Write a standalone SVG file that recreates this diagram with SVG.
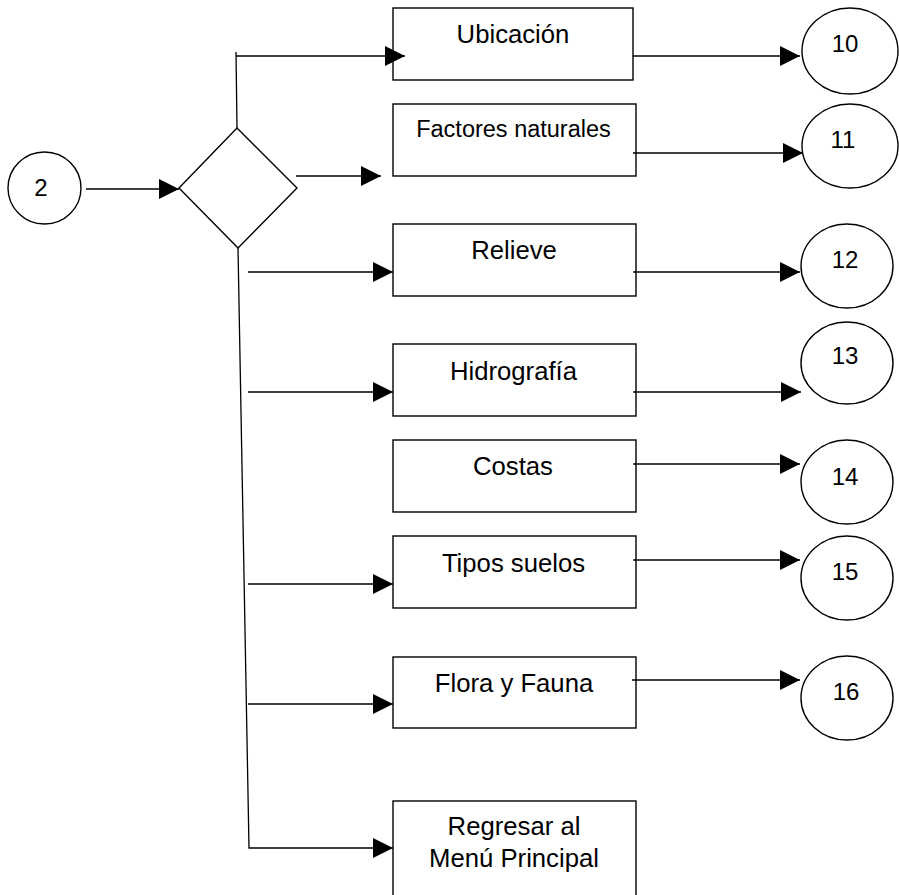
<svg xmlns="http://www.w3.org/2000/svg" width="899" height="895" viewBox="0 0 899 895">
  <style>
    .shape { fill: #fff; stroke: #000; stroke-width: 1.4; }
    .wire { fill: none; stroke: #000; stroke-width: 1.3; }
    .lbl { font-family: "Liberation Sans", Arial, sans-serif; font-size: 25.7px; fill: #000; text-anchor: middle; }
    .small { font-size: 23.5px; }
    .num { font-family: "Liberation Sans", Arial, sans-serif; font-size: 24px; fill: #000; text-anchor: middle; }
  </style>
  <defs>
    <marker id="arrow" markerUnits="userSpaceOnUse" markerWidth="20" markerHeight="20" refX="20" refY="10" orient="auto">
      <path d="M0,0 L20,10 L0,20 z" fill="#000"/>
    </marker>
  </defs>
  <rect width="899" height="895" fill="#fff"/>

  <g id="start">
    <ellipse class="shape" cx="44.5" cy="188" rx="36.5" ry="36"/>
    <text class="num" x="41" y="196">2</text>
  </g>

  <g id="decision">
    <polygon class="shape" points="179,188 237,128 297,188 238,248"/>
  </g>

  <g id="ubicacion">
    <rect class="shape" x="393" y="8" width="240" height="72"/>
    <text class="lbl" x="513" y="43">Ubicación</text>
  </g>
  <g id="factores">
    <rect class="shape" x="393" y="104" width="243" height="72"/>
    <text class="lbl small" x="513.5" y="137">Factores naturales</text>
  </g>
  <g id="relieve">
    <rect class="shape" x="393" y="224" width="243" height="72"/>
    <text class="lbl" x="514" y="259">Relieve</text>
  </g>
  <g id="hidrografia">
    <rect class="shape" x="393" y="344" width="243" height="72"/>
    <text class="lbl" x="513.5" y="380">Hidrografía</text>
  </g>
  <g id="costas">
    <rect class="shape" x="393" y="440" width="243" height="72"/>
    <text class="lbl" x="513" y="475">Costas</text>
  </g>
  <g id="tipos-suelos">
    <rect class="shape" x="393" y="536" width="243" height="72"/>
    <text class="lbl" x="513.5" y="572">Tipos suelos</text>
  </g>
  <g id="flora-fauna">
    <rect class="shape" x="393" y="657" width="243" height="71"/>
    <text class="lbl" x="514" y="692">Flora y Fauna</text>
  </g>
  <g id="regresar">
    <rect class="shape" x="393" y="801" width="243" height="110"/>
    <text class="lbl" x="514" y="835">Regresar al</text>
    <text class="lbl" x="514" y="867">Menú Principal</text>
  </g>

  <g id="n10">
    <ellipse class="shape" cx="850" cy="51" rx="48" ry="43"/>
    <text class="num" x="845" y="52">10</text>
  </g>
  <g id="n11">
    <ellipse class="shape" cx="850" cy="146" rx="48" ry="42"/>
    <text class="num" x="843" y="148">11</text>
  </g>
  <g id="n12">
    <ellipse class="shape" cx="847" cy="266" rx="46" ry="42"/>
    <text class="num" x="845" y="268">12</text>
  </g>
  <g id="n13">
    <ellipse class="shape" cx="847" cy="363" rx="46" ry="41"/>
    <text class="num" x="845" y="364">13</text>
  </g>
  <g id="n14">
    <ellipse class="shape" cx="847" cy="482" rx="46" ry="42"/>
    <text class="num" x="845" y="485">14</text>
  </g>
  <g id="n15">
    <ellipse class="shape" cx="847" cy="578" rx="46" ry="42"/>
    <text class="num" x="845" y="580">15</text>
  </g>
  <g id="n16">
    <ellipse class="shape" cx="847" cy="698" rx="46" ry="42"/>
    <text class="num" x="846" y="700">16</text>
  </g>

  <!-- connectors drawn last so arrowheads sit on top of node edges -->
  <g id="connectors">
    <line class="wire" x1="86" y1="189" x2="179" y2="189" marker-end="url(#arrow)"/>
    <line class="wire" x1="237" y1="128" x2="236" y2="52"/>
    <line class="wire" x1="236" y1="56" x2="405" y2="56" marker-end="url(#arrow)"/>
    <line class="wire" x1="296" y1="176" x2="381" y2="176" marker-end="url(#arrow)"/>
    <polyline class="wire" points="238,248 249,848 393,848" marker-end="url(#arrow)"/>
    <line class="wire" x1="248" y1="272" x2="393" y2="272" marker-end="url(#arrow)"/>
    <line class="wire" x1="248" y1="392" x2="393" y2="392" marker-end="url(#arrow)"/>
    <line class="wire" x1="248" y1="584" x2="393" y2="584" marker-end="url(#arrow)"/>
    <line class="wire" x1="248" y1="704" x2="393" y2="704" marker-end="url(#arrow)"/>
    <line class="wire" x1="633" y1="56" x2="800" y2="56" marker-end="url(#arrow)"/>
    <line class="wire" x1="633" y1="153" x2="803" y2="153" marker-end="url(#arrow)"/>
    <line class="wire" x1="633" y1="272" x2="800" y2="272" marker-end="url(#arrow)"/>
    <line class="wire" x1="633" y1="392" x2="801" y2="392" marker-end="url(#arrow)"/>
    <line class="wire" x1="633" y1="464" x2="800" y2="464" marker-end="url(#arrow)"/>
    <line class="wire" x1="633" y1="560" x2="800" y2="560" marker-end="url(#arrow)"/>
    <line class="wire" x1="632" y1="680" x2="800" y2="680" marker-end="url(#arrow)"/>
  </g>
</svg>
